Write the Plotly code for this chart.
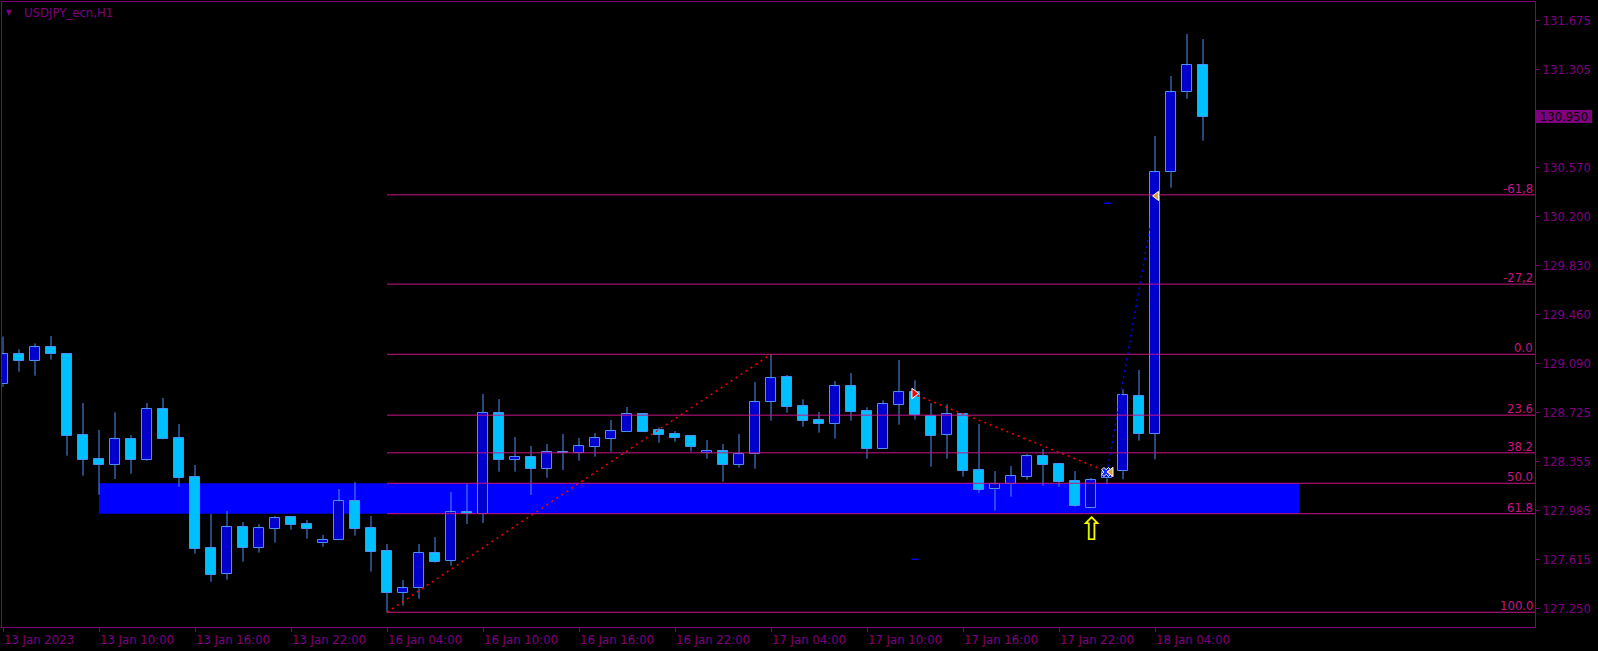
import plotly.graph_objects as go

# ---------------- data (USDJPY_ecn, H1) ----------------
time_labels = ["13 Jan 2023", "13 Jan 10:00", "13 Jan 16:00", "13 Jan 22:00",
               "16 Jan 04:00", "16 Jan 10:00", "16 Jan 16:00", "16 Jan 22:00",
               "17 Jan 04:00", "17 Jan 10:00", "17 Jan 16:00", "17 Jan 22:00",
               "18 Jan 04:00"]
time_label_bars = [0, 6, 12, 18, 24, 30, 36, 42, 48, 54, 60, 66, 72]

opens = [128.936, 129.162, 129.114, 129.214, 129.162, 128.552, 128.371, 128.331, 128.522, 128.369,
         128.748, 128.529, 128.236, 127.701, 127.510, 127.859, 127.706, 127.849, 127.935, 127.882,
         127.739, 127.761, 128.055, 127.852, 127.681, 127.367, 127.400, 127.664, 127.608, 127.972,
         127.962, 128.717, 128.369, 128.386, 128.301, 128.426, 128.421, 128.466, 128.527, 128.579,
         128.710, 128.589, 128.559, 128.544, 128.419, 128.431, 128.331, 128.409, 128.805, 128.988,
         128.770, 128.665, 128.640, 128.921, 128.732, 128.451, 128.783, 128.876, 128.700, 128.557,
         128.710, 128.288, 128.145, 128.183, 128.241, 128.394, 128.334, 128.206, 128.007, 128.228,
         128.281, 128.845, 128.564, 130.532, 131.134, 131.337]
highs = [129.295, 129.199, 129.244, 129.300, 129.169, 128.795, 128.592, 128.725, 128.554, 128.795,
         128.833, 128.637, 128.329, 127.960, 127.982, 127.899, 127.884, 127.945, 127.940, 127.914,
         127.802, 128.148, 128.200, 127.945, 127.734, 127.463, 127.734, 127.786, 128.125, 128.185,
         128.863, 128.825, 128.539, 128.472, 128.487, 128.562, 128.532, 128.569, 128.667, 128.765,
         128.720, 128.612, 128.584, 128.554, 128.517, 128.487, 128.562, 128.953, 129.162, 129.006,
         128.823, 128.727, 128.961, 129.021, 128.763, 128.815, 129.119, 128.966, 128.795, 128.785,
         128.718, 128.637, 128.283, 128.321, 128.411, 128.449, 128.344, 128.283, 128.231, 128.303,
         128.898, 129.044, 130.805, 131.257, 131.573, 131.535]
lows = [128.918, 129.031, 129.001, 129.121, 128.399, 128.248, 128.105, 128.223, 128.263, 128.361,
        128.522, 128.165, 127.661, 127.450, 127.465, 127.601, 127.669, 127.744, 127.842, 127.774,
        127.714, 127.761, 127.797, 127.526, 127.220, 127.270, 127.322, 127.593, 127.571, 127.884,
        127.892, 128.278, 128.278, 128.103, 128.233, 128.291, 128.361, 128.391, 128.429, 128.579,
        128.579, 128.497, 128.504, 128.429, 128.376, 128.203, 128.308, 128.301, 128.662, 128.722,
        128.617, 128.572, 128.527, 128.662, 128.376, 128.451, 128.632, 128.670, 128.316, 128.376,
        128.241, 128.120, 127.985, 128.090, 128.218, 128.173, 128.165, 128.015, 128.007, 128.183,
        128.221, 128.512, 128.371, 130.416, 131.086, 130.770]
closes = [129.162, 129.114, 129.214, 129.162, 128.549, 128.369, 128.331, 128.522, 128.369, 128.748,
          128.527, 128.233, 127.699, 127.503, 127.859, 127.706, 127.852, 127.927, 127.879, 127.849,
          127.761, 128.055, 127.849, 127.676, 127.367, 127.400, 127.664, 127.601, 127.972, 127.960,
          128.717, 128.369, 128.386, 128.301, 128.424, 128.421, 128.469, 128.529, 128.582, 128.710,
          128.579, 128.557, 128.534, 128.466, 128.431, 128.331, 128.409, 128.800, 128.981, 128.768,
          128.662, 128.640, 128.921, 128.730, 128.451, 128.785, 128.876, 128.705, 128.549, 128.710,
          128.286, 128.143, 128.183, 128.243, 128.394, 128.331, 128.203, 128.022, 128.213, 128.278,
          128.853, 128.564, 130.532, 131.134, 131.337, 130.950]

price_ticks = [131.675, 131.305, 130.570, 130.200, 129.830, 129.460, 129.090,
               128.725, 128.355, 127.985, 127.615, 127.250]
bid_price = 130.950

# Fibonacci retracement (anchor bars / prices)
fib_start_bar = 24
fib_high = 129.162
fib_low = 127.220
fib_levels = [-61.8, -27.2, 0.0, 23.6, 38.2, 50.0, 61.8, 100.0]
fib_texts = ["-61,8", "-27,2", "0.0", "23.6", "38.2", "50.0", "61.8", "100.0"]

# Zone rectangle (bars)
zone_bars = [6, 81]

# trend lines: (bar, price) pairs
red_line1 = [(24, 127.220), (48, 129.162)]
red_line2 = [(56.8, 128.868), (68.8, 128.289)]
blue_line = [(69.06, 128.316), (71.73, 130.150)]
arrow_marks = [(56.95, 128.867)]
cross_marks = [(68.95, 128.276)]
tri_marks = [(69.25, 128.276), (72.1, 130.354)]
dash_marks = [(57.0, 127.619), (69.03, 130.299)]
signal_arrow = (68.0, 127.850)

# ---------------- styling ----------------
BG = "#000000"
PURPLE = "#800080"
FIB = "#C71585"
BULL = "#0000CD"
BEAR = "#00BFFF"
EDGE = "#4D8FF5"
FONT = "DejaVu Sans Condensed, DejaVu Sans, sans-serif"

n = len(opens)
idx = list(range(n))
body_lo = [min(o, c) for o, c in zip(opens, closes)]
body_hi = [max(o, c) for o, c in zip(opens, closes)]
body_h = [max(h - l, 0.0015) for h, l in zip(body_hi, body_lo)]
colors = [BULL if c > o else BEAR for o, c in zip(opens, closes)]

fig = go.Figure()

# wicks (only outside bodies)
wx, wy = [], []
for i in idx:
    if highs[i] > body_hi[i]:
        wx += [i, i, None]
        wy += [body_hi[i], highs[i], None]
    if lows[i] < body_lo[i]:
        wx += [i, i, None]
        wy += [lows[i], body_lo[i], None]
fig.add_trace(go.Scatter(x=wx, y=wy, mode="lines", line=dict(color=EDGE, width=1),
                         hoverinfo="skip"))

fig.add_trace(go.Bar(x=idx, y=body_h, base=body_lo, width=0.66,
                     marker=dict(color=colors, line=dict(color=EDGE, width=1)),
                     hoverinfo="skip"))

# fib lines
x_end = 95.75
fib_prices = [fib_high - lv / 100.0 * (fib_high - fib_low) for lv in fib_levels]
for p in fib_prices:
    fig.add_trace(go.Scatter(x=[fib_start_bar, x_end], y=[p, p], mode="lines",
                             line=dict(color=FIB, width=1), hoverinfo="skip"))

# trend lines
for seg, col in [(red_line1, "#FF0000"), (red_line2, "#FF0000"), (blue_line, "#0000FF")]:
    fig.add_trace(go.Scatter(x=[seg[0][0], seg[1][0]], y=[seg[0][1], seg[1][1]], mode="lines",
                             line=dict(color=col, width=1.5, dash="2px,4px"), hoverinfo="skip"))

# small dashes
for bx, p in dash_marks:
    fig.add_trace(go.Scatter(x=[bx - 0.22, bx + 0.22], y=[p, p], mode="lines",
                             line=dict(color="#0000EE", width=1.5), hoverinfo="skip"))

# markers
fig.add_trace(go.Scatter(x=[a[0] for a in arrow_marks], y=[a[1] for a in arrow_marks], mode="markers",
                         marker=dict(symbol="triangle-right", size=9, color="#FF0000",
                                     line=dict(color="#FFFFFF", width=1)), hoverinfo="skip"))
fig.add_trace(go.Scatter(x=[a[0] for a in cross_marks], y=[a[1] for a in cross_marks], mode="markers",
                         marker=dict(symbol="x", size=8, color="#1030FF",
                                     line=dict(color="#FFFFFF", width=1)), hoverinfo="skip"))
fig.add_trace(go.Scatter(x=[a[0] for a in tri_marks], y=[a[1] for a in tri_marks], mode="markers",
                         marker=dict(symbol="triangle-left", size=8, color="#E0A030",
                                     line=dict(color="#FFFFFF", width=1)), hoverinfo="skip"))

shapes = [dict(type="rect", xref="x", yref="y", x0=zone_bars[0], x1=zone_bars[1],
               y0=fib_prices[6], y1=fib_prices[5], fillcolor="#0000FF",
               line=dict(width=0), layer="below")]

annotations = []
for p, t in zip(fib_prices, fib_texts):
    annotations.append(dict(xref="paper", yref="y", x=1.0, y=p, text=t, showarrow=False,
                            xanchor="right", yanchor="bottom", yshift=-3, xshift=0,
                            font=dict(color=FIB, size=13, family=FONT)))
annotations.append(dict(xref="paper", yref="paper", x=0.0128, y=0.9824, text="USDJPY_ecn,H1",
                        showarrow=False, xanchor="left", yanchor="middle",
                        font=dict(color=PURPLE, size=13, family=FONT)))
annotations.append(dict(xref="paper", yref="paper", x=0.0045, y=0.9824, text="▼",
                        showarrow=False, xanchor="center", yanchor="middle",
                        font=dict(color=PURPLE, size=8, family=FONT)))
annotations.append(dict(xref="paper", yref="y", x=1.0, xshift=1, y=bid_price,
                        text=f"{bid_price:.3f}", showarrow=False, xanchor="left", yanchor="middle",
                        width=56, height=13, borderpad=0, borderwidth=0, bgcolor=PURPLE,
                        font=dict(color="#000000", size=13, family=FONT)))
annotations.append(dict(xref="x", yref="y", x=signal_arrow[0], y=signal_arrow[1], text="⇧",
                        showarrow=False, xanchor="center", yanchor="middle",
                        font=dict(color="#FFFF00", size=32, family="DejaVu Sans")))

fig.update_layout(
    width=1598, height=651,
    margin=dict(l=2, r=63, t=2, b=24),
    paper_bgcolor=BG, plot_bgcolor=BG,
    showlegend=False, shapes=shapes, annotations=annotations,
    bargap=0,
    xaxis=dict(range=[-0.0625, 95.75], tickvals=time_label_bars, ticktext=time_labels,
               showgrid=False, zeroline=False, showline=True, linecolor=PURPLE, linewidth=1,
               mirror=True, ticks="outside", ticklen=4, tickcolor=PURPLE,
               ticklabelposition="outside right",
               tickfont=dict(color=PURPLE, size=13, family=FONT)),
    yaxis=dict(range=[127.109, 131.814], side="right", tickvals=price_ticks,
               ticktext=[f"{v:.3f}" for v in price_ticks],
               showgrid=False, zeroline=False, showline=True, linecolor=PURPLE, linewidth=1,
               mirror=True, ticks="outside", ticklen=4, tickcolor=PURPLE,
               tickfont=dict(color=PURPLE, size=13, family=FONT)),
)

fig.write_html("out.html", config={"displayModeBar": False},
               post_script="document.body.style.margin='0';")
